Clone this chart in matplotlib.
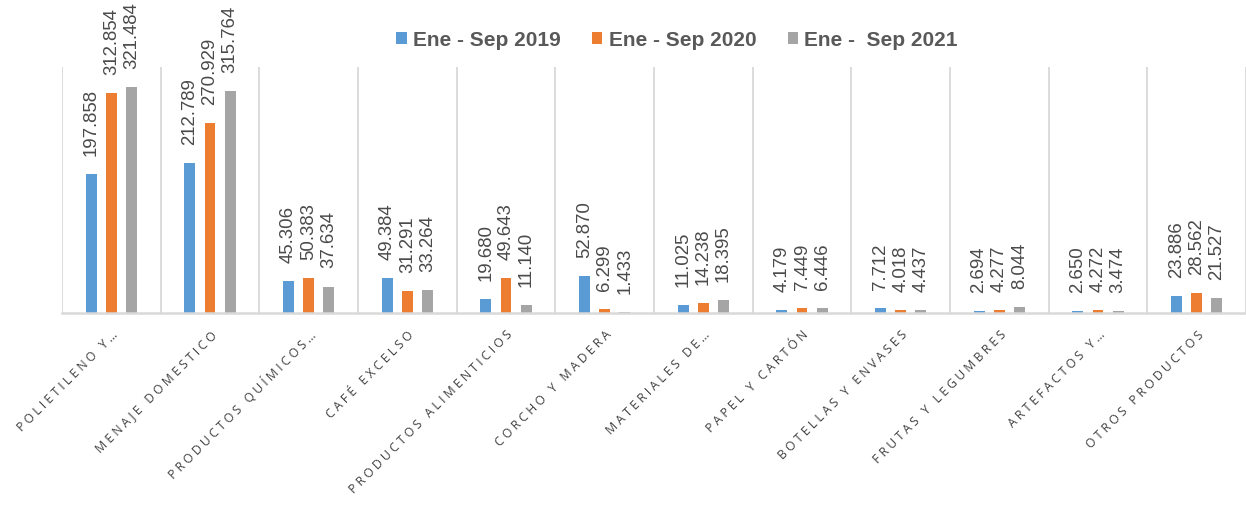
import matplotlib
matplotlib.use('Agg')
import matplotlib.pyplot as plt
import numpy as np
from matplotlib.patches import Patch

categories = ["POLIETILENO Y…", "MENAJE DOMESTICO", "PRODUCTOS QUÍMICOS…", "CAFÉ EXCELSO",
              "PRODUCTOS ALIMENTICIOS", "CORCHO Y MADERA", "MATERIALES DE…", "PAPEL Y CARTÓN",
              "BOTELLAS Y ENVASES", "FRUTAS Y LEGUMBRES", "ARTEFACTOS Y…", "OTROS PRODUCTOS"]
series_names = ["Ene - Sep 2019", "Ene - Sep 2020", "Ene -  Sep 2021"]
v2019 = [197.858, 212.789, 45.306, 49.384, 19.680, 52.870, 11.025, 4.179, 7.712, 2.694, 2.650, 23.886]
v2020 = [312.854, 270.929, 50.383, 31.291, 49.643, 6.299, 14.238, 7.449, 4.018, 4.277, 4.272, 28.562]
v2021 = [321.484, 315.764, 37.634, 33.264, 11.140, 1.433, 18.395, 6.446, 4.437, 8.044, 3.474, 21.527]
colors = ["#5B9BD5", "#ED7D31", "#A5A5A5"]

W, H = 1246, 512
fig = plt.figure(figsize=(W / 100, H / 100), dpi=100)
ax = fig.add_axes([62 / W, 1 - 313 / H, (1246 - 62) / W, (313 - 67) / H])

x = np.arange(len(categories))
bw = 0.11
step = 0.205
series = [v2019, v2020, v2021]
for j, (vals, col) in enumerate(zip(series, colors)):
    xs = x + (j - 1) * step
    ax.bar(xs, vals, width=bw, color=col, zorder=3)
    for xi, v in zip(xs, vals):
        ax.annotate(f"{v:.3f}", (xi, v), xytext=(0, 13), textcoords='offset points',
                    rotation=90, ha='center', va='bottom', fontsize=13.4,
                    color='#4a4a4a', family='Liberation Sans')

ax.set_xlim(-0.5, len(categories) - 0.5)
ax.set_ylim(0, 350)
ax.set_yticks([])
for s in ['left', 'right', 'top']:
    ax.spines[s].set_visible(False)
ax.spines['bottom'].set_color('#d9d9d9')
ax.spines['bottom'].set_linewidth(1.8)
ax.spines['bottom'].set_zorder(4)

ax.set_xticks(np.arange(-0.5, len(categories) + 0.5, 1.0), minor=True)
ax.grid(True, which='minor', axis='x', color='#d9d9d9', linewidth=1.3, zorder=0)
ax.tick_params(axis='x', which='both', length=0)


def spaced(s):
    return " ".join(list(s))


ax.set_xticks(x)
ax.set_xticklabels([spaced(c) for c in categories], rotation=45, ha='right',
                   rotation_mode='anchor', fontsize=8.8, color='#404040',
                   family=['Open Sans', 'DejaVu Sans'])
ax.tick_params(axis='x', which='major', pad=11)

handles = [Patch(facecolor=c, edgecolor='none') for c in colors]
fig.legend(handles, series_names, loc='center', bbox_to_anchor=(677 / W, 1 - 40 / H),
           ncol=3, frameon=False, handlelength=0.5, handleheight=0.5,
           handletextpad=0.3, columnspacing=1.5,
           prop={'family': 'Liberation Sans', 'weight': 'bold', 'size': 15},
           labelcolor='#595959')

fig.savefig('out.png', dpi=100)
